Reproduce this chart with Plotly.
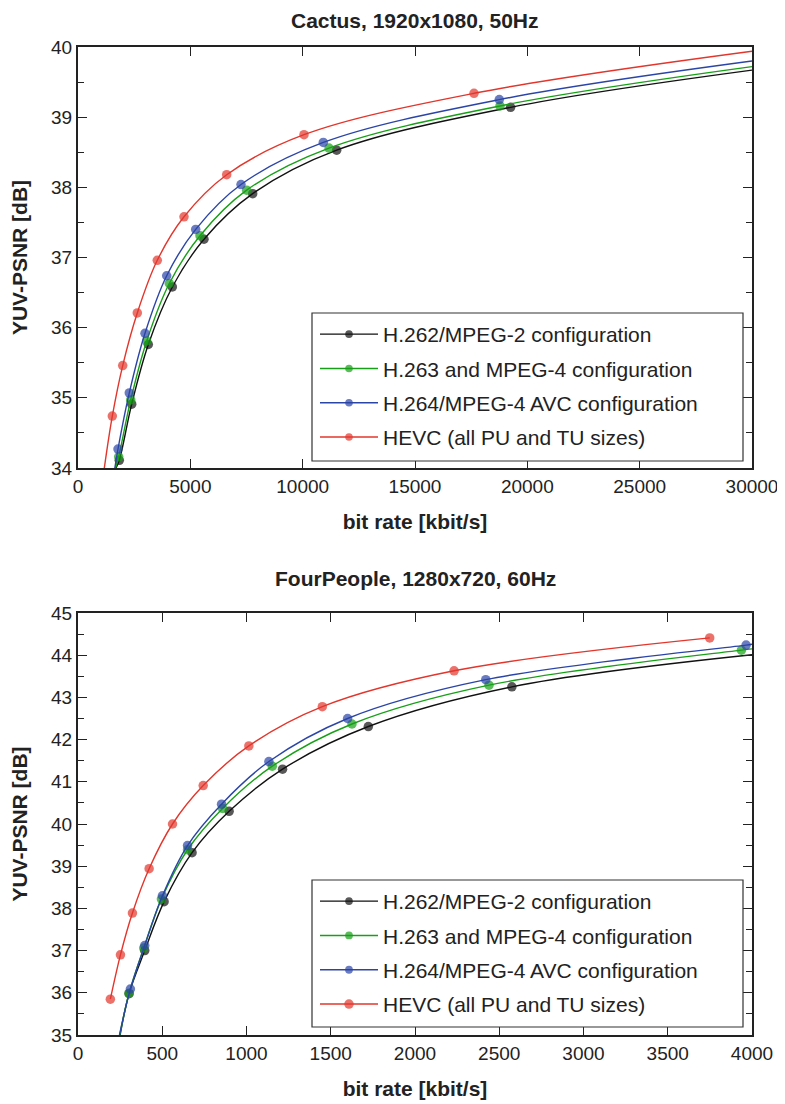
import plotly.graph_objects as go

# ---------------- data ----------------
names = ["H.262/MPEG-2 configuration", "H.263 and MPEG-4 configuration",
         "H.264/MPEG-4 AVC configuration", "HEVC (all PU and TU sizes)"]
colors = ["#111111", "#17a017", "#2b45a6", "#e2362c"]

# Cactus, 1920x1080, 50Hz
cactus_black_x = [1838, 2390, 3130, 4198, 5608, 7775, 11514, 19256]
cactus_black_y = [34.11, 34.91, 35.76, 36.58, 37.26, 37.91, 38.53, 39.14]
cactus_green_x = [1811, 2346, 3058, 4064, 5430, 7507, 11172, 18783]
cactus_green_y = [34.16, 34.97, 35.81, 36.63, 37.31, 37.96, 38.56, 39.16]
cactus_blue_x = [1780, 2283, 2982, 3948, 5239, 7255, 10918, 18752]
cactus_blue_y = [34.27, 35.07, 35.92, 36.74, 37.40, 38.04, 38.64, 39.25]
cactus_red_x = [1527, 1990, 2639, 3529, 4718, 6619, 10059, 17626]
cactus_red_y = [34.74, 35.46, 36.21, 36.96, 37.58, 38.18, 38.75, 39.34]
# fitted-curve ends visible in the picture: (x_start, y_start, x_end, y_end)
cactus_curve_ends = [(1690, 34.0, 30000, 39.67), (1670, 34.0, 30000, 39.72),
                     (1640, 34.0, 30000, 39.80), (1171, 34.0, 30000, 39.94)]

# FourPeople, 1280x720, 60Hz
four_black_x = [303, 396, 511, 677, 897, 1214, 1723, 2575]
four_black_y = [35.98, 37.00, 38.16, 39.32, 40.30, 41.30, 42.31, 43.25]
four_green_x = [303, 390, 495, 650, 858, 1153, 1626, 2439, 3937]
four_green_y = [35.99, 37.06, 38.22, 39.39, 40.37, 41.37, 42.37, 43.29, 44.12]
four_blue_x = [311, 396, 501, 650, 852, 1133, 1600, 2420, 3965]
four_blue_y = [36.09, 37.12, 38.30, 39.49, 40.47, 41.48, 42.50, 43.42, 44.24]
four_red_x = [192, 252, 323, 422, 561, 743, 1014, 1450, 2232, 3749]
four_red_y = [35.85, 36.90, 37.89, 38.94, 40.00, 40.91, 41.85, 42.78, 43.63, 44.41]
four_curve_ends = [(250, 35.0, 4000, 44.01), (248, 35.0, 4000, 44.15),
                   (246, 35.0, 4000, 44.26), None]

cactus_series = [(cactus_black_x, cactus_black_y), (cactus_green_x, cactus_green_y),
                 (cactus_blue_x, cactus_blue_y), (cactus_red_x, cactus_red_y)]
four_series = [(four_black_x, four_black_y), (four_green_x, four_green_y),
               (four_blue_x, four_blue_y), (four_red_x, four_red_y)]

titles = ["Cactus, 1920x1080, 50Hz", "FourPeople, 1280x720, 60Hz"]
x_title = "bit rate [kbit/s]"
y_title = "YUV-PSNR [dB]"

# ---------------- figure ----------------
OFF = 8                      # page body margin of the html page
W, H = 785 - OFF, 1104 - OFF
FONT = "Liberation Sans, Arial, Helvetica, sans-serif"
fig = go.Figure()

def px_x(px):
    return (px - OFF) / W

def px_y(py):
    return 1 - (py - OFF) / H

def add_series(series, ends, xa, ya, legend):
    for i, ((xs, ys), end) in enumerate(zip(series, ends)):
        cx, cy, sz = list(xs), list(ys), [9.5] * len(xs)
        if end is not None:
            cx = [end[0]] + cx + [end[2]]
            cy = [end[1]] + cy + [end[3]]
            sz = [0] + sz + [0]
        fig.add_trace(go.Scatter(
            x=cx, y=cy, name=names[i], mode="lines+markers",
            line=dict(color=colors[i], width=1.4, shape="spline", smoothing=1.0),
            marker=dict(color=colors[i], size=sz, line=dict(width=0)),
            xaxis=xa, yaxis=ya, legend=legend, legendgroup=legend + str(i),
        ))

add_series(cactus_series, cactus_curve_ends, "x", "y", "legend")
add_series(four_series, four_curve_ends, "x2", "y2", "legend2")

xdom = [px_x(78), px_x(752)]
axis_common = dict(
    showline=True, linewidth=2, linecolor="#222", mirror="ticks",
    ticks="inside", ticklen=9, tickwidth=1.3, tickcolor="#222",
    showgrid=False, zeroline=False, automargin=False,
    exponentformat="none", separatethousands=False,
    tickfont=dict(family=FONT, size=19, color="#222"),
)
title_font = dict(family=FONT, size=21, color="#222", weight="bold")
minor = dict(dtick=0.5, ticks="inside", ticklen=6, tickwidth=1.3, tickcolor="#222")

legend_common = dict(xanchor="left", yanchor="top", bgcolor="rgba(0,0,0,0)",
                     borderwidth=0,
                     font=dict(family=FONT, size=21, color="#222"),
                     tracegroupgap=4, itemwidth=58)

def legend_box(x0, y0, x1, y1):
    return dict(type="rect", xref="paper", yref="paper",
                x0=px_x(x0), x1=px_x(x1), y0=px_y(y1), y1=px_y(y0),
                line=dict(color="#333", width=1.2), fillcolor="white", layer="above")

fig.update_layout(
    width=W, height=H, margin=dict(l=0, r=0, t=0, b=0, autoexpand=False),
    paper_bgcolor="white", plot_bgcolor="white",
    xaxis=dict(domain=xdom, anchor="y", range=[0, 30000], dtick=5000, tickformat="d",
               title=dict(text=x_title, font=title_font, standoff=19), **axis_common),
    yaxis=dict(domain=[px_y(468), px_y(47)], anchor="x", range=[34, 40], dtick=1,
               minor=minor,
               title=dict(text=y_title, font=title_font, standoff=25), **axis_common),
    xaxis2=dict(domain=xdom, anchor="y2", range=[0, 4000], dtick=500, tickformat="d",
                title=dict(text=x_title, font=title_font, standoff=19), **axis_common),
    yaxis2=dict(domain=[px_y(1035), px_y(613)], anchor="x2", range=[35, 45], dtick=1,
                minor=minor,
                title=dict(text=y_title, font=title_font, standoff=25), **axis_common),
    legend=dict(x=px_x(315), y=px_y(314), **legend_common),
    legend2=dict(x=px_x(315), y=px_y(881), **legend_common),
    shapes=[legend_box(312, 313, 743, 461), legend_box(312, 880, 743, 1027)],
    annotations=[
        dict(text="<b>" + titles[0] + "</b>", x=px_x(415), y=px_y(21), xref="paper", yref="paper",
             showarrow=False, xanchor="center", yanchor="middle",
             font=dict(family=FONT, size=21, color="#222")),
        dict(text="<b>" + titles[1] + "</b>", x=px_x(415), y=px_y(578), xref="paper", yref="paper",
             showarrow=False, xanchor="center", yanchor="middle",
             font=dict(family=FONT, size=21, color="#222")),
    ],
)

fig.write_html("out.html")
